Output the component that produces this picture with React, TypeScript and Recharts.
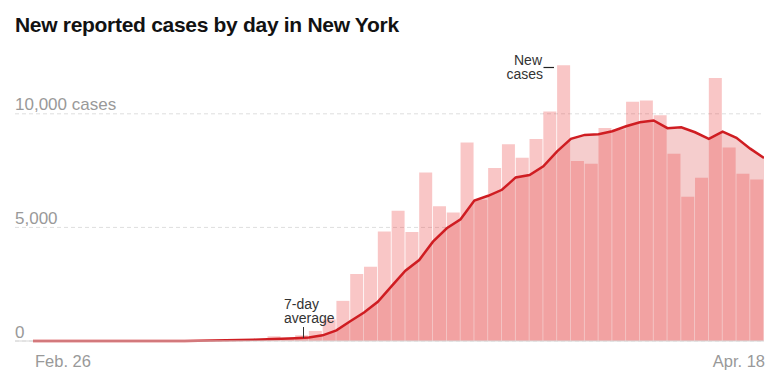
import React from "react";
import { ComposedChart, Bar, Area, Line, XAxis, YAxis, CartesianGrid } from "recharts";

// Feb. 26 .. Apr. 18 (53 days)
const tickLabels = ["Feb. 26", "Apr. 18"];
const yTicks = [0, 5000, 10000];

const newCases = [
  0, 0, 0, 0, 1, 0, 1, 0, 1, 8, 16, 22, 23, 40, 45, 60, 90,
  207, 130, 250, 442, 950, 1767, 2946, 3269, 4815, 5729, 4801, 7420, 5935, 5654,
  8740, 6215, 7614, 8657, 8070, 8895, 10100, 12133, 7923, 7805, 9380, 9306,
  10530, 10588, 9940, 8246, 6347, 7186, 11573, 8512, 7363, 7111,
];

const sevenDayAverage = [
  0, 0, 0, 0, 0, 1, 1, 1,
  2, 3, 5, 10, 20, 30, 45, 60,
  80, 100, 120, 150, 250, 470,
  870, 1253, 1723, 2416, 3092, 3564, 4373, 4963, 5360, 6180,
  6391, 6656, 7200, 7305, 7686, 8348, 8895, 9072, 9100, 9231, 9452,
  9630, 9704, 9366, 9410, 9187, 8895, 9218, 8940, 8467, 8055,
];

// t = end of the day (line), c = middle of the day (bar)
const data = [
  { t: 0, c: -0.5, cases: null as number | null, avg: 0 },
  ...newCases.map((v, i) => ({ t: i + 1, c: i + 0.5, cases: v, avg: sevenDayAverage[i] })),
];

const X_DOMAIN: [number, number] = [-1.305, 53];
const SANS = "'Liberation Sans', Arial, sans-serif";

const YTick = (props: any) => {
  const { y, payload } = props;
  const label = payload.value === 10000 ? "10,000 cases" : Number(payload.value).toLocaleString("en-US");
  return (
    <text x={15} y={y - 3.5} fill="#999" fontSize={17} fontFamily={SANS} textAnchor="start">
      {label}
    </text>
  );
};

const XTick = (props: any) => {
  const { x, y, index } = props;
  const first = index === 0;
  return (
    <text x={first ? x + 2 : x + 1} y={y + 26} fill="#999" fontSize={16.5} fontFamily={SANS} textAnchor={first ? "start" : "end"}>
      {tickLabels[index]}
    </text>
  );
};

const App = () => {
  return (
    <div style={{ position: "absolute", left: 0, top: 0, width: 784, height: 381, background: "#fff" }}>
      <ComposedChart width={784} height={381} data={data} margin={{ top: 57, right: 20, bottom: 0, left: 14 }}>
        <CartesianGrid xAxisId="days" vertical={false} horizontalValues={yTicks} stroke="#dedede" strokeDasharray="4 3" />
        <XAxis
          xAxisId="days"
          dataKey="t"
          type="number"
          domain={X_DOMAIN}
          allowDataOverflow
          ticks={[0, 53]}
          tick={<XTick />}
          tickLine={false}
          tickSize={0}
          tickMargin={0}
          height={40}
          axisLine={{ stroke: "#d6d6d6" }}
          interval={0}
        />
        <XAxis xAxisId="bars" dataKey="c" type="number" domain={X_DOMAIN} allowDataOverflow hide height={0} />
        <YAxis
          width={1}
          domain={[0, 12500]}
          ticks={yTicks}
          tick={<YTick />}
          axisLine={false}
          tickLine={false}
          tickSize={0}
          tickMargin={0}
          interval={0}
        />
        <Area
          xAxisId="days"
          dataKey="avg"
          type="linear"
          fill="#f5cdcd"
          fillOpacity={1}
          stroke="none"
          dot={false}
          activeDot={false}
          isAnimationActive={false}
        />
        <Bar xAxisId="bars" dataKey="cases" fill="#e93333" fillOpacity={0.28} barSize={13} isAnimationActive={false} />
        <Line
          xAxisId="days"
          dataKey="avg"
          type="linear"
          stroke="#cf1d22"
          strokeWidth={2.5}
          dot={false}
          activeDot={false}
          isAnimationActive={false}
        />
      </ComposedChart>
      <svg width={784} height={381} style={{ position: "absolute", left: 0, top: 0, pointerEvents: "none" }}>
        <text x={15} y={32} fontFamily={SANS} fontWeight="bold" fontSize={21} letterSpacing={-0.3} fill="#121212">
          New reported cases by day in New York
        </text>
        <g fontFamily={SANS} fontSize={14} fill="#333">
          <text x={542} y={65} textAnchor="end">New</text>
          <text x={543} y={79} textAnchor="end">cases</text>
          <text x={284} y={309}>7-day</text>
          <text x={284} y={323}>average</text>
        </g>
        <line x1={543.5} x2={554} y1={67.5} y2={67.5} stroke="#222" strokeWidth={1.2} />
        <line x1={303.5} x2={303.5} y1={327} y2={338} stroke="#333" strokeWidth={1} />
      </svg>
    </div>
  );
};

export default App;
